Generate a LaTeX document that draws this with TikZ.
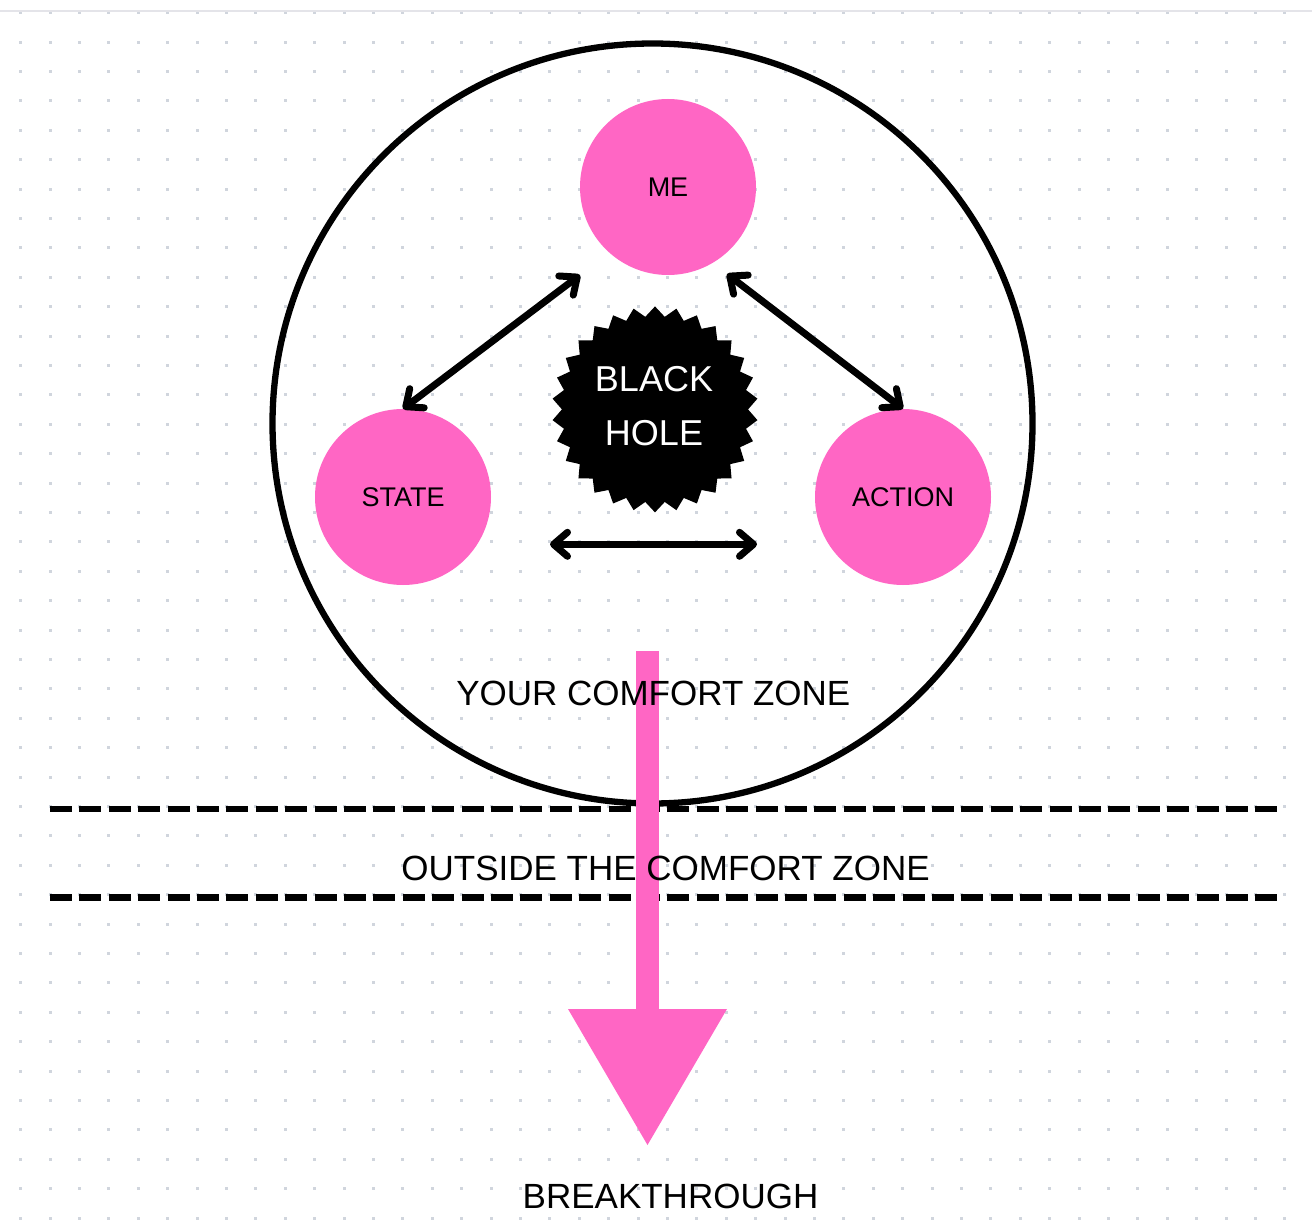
\documentclass[tikz,border=0pt]{standalone}
\usepackage{fontspec}
\setmainfont{Liberation Sans}
\usetikzlibrary{arrows.meta,shapes.geometric}
\definecolor{hotpink}{HTML}{FF66C4}
\definecolor{dotgray}{HTML}{D0D5DD}
\definecolor{rulegray}{HTML}{E4E4E9}
\begin{document}
\begin{tikzpicture}[x=1pt,y=-1pt,
  pinkball/.style={circle,fill=hotpink,minimum size=176pt,inner sep=0pt,font=\fontsize{27}{30}\selectfont},
  twoway/.style={line width=7pt,{Straight Barb[length=14pt,width=24pt,round]}-{Straight Barb[length=14pt,width=24pt,round]}},
  zonelabel/.style={font=\fontsize{35}{40}\selectfont,anchor=base,inner sep=0pt},
  boundary/.style={line width=6.6pt,dash pattern=on 22pt off 7.4pt}]
\useasboundingbox (0,0) rectangle (1312,1228);
\fill[white] (0,0) rectangle (1312,1228);
% dot grid
\foreach \i in {0,...,43}{
  \foreach \j in {0,...,41}{
    \fill[dotgray] ({19.2+29.4*\i},{11.2+29.4*\j}) rectangle ++(3,3);
  }
}
\draw[rulegray,line width=2pt] (0,11) -- (1312,11);
% comfort zone circle
\node[circle,draw=black,line width=6.3pt,minimum size=760pt,inner sep=0pt] (zone) at (652.5,423.5) {};
% pink circles
\node[pinkball] (me) at (668,187) {ME};
\node[pinkball] (state) at (403,497) {STATE};
\node[pinkball] (action) at (903,497) {ACTION};
% black hole
\node[star,star points=30,star point ratio=1.107,minimum size=206pt,inner sep=0pt,fill=black] (hole) at (655,409.4) {};
\node[text=white,align=center,inner sep=0pt,font=\fontsize{36}{53.3}\selectfont] (holetext) at (654,406) {BLACK\\HOLE};
% double arrows
\coordinate (meL) at (580,275);
\coordinate (meR) at (727,274);
\coordinate (hL) at (550,544.3);
\coordinate (hR) at (757,544.3);
\draw[twoway] (meL) -- (state.north);
\draw[twoway] (meR) -- (action.north);
\draw[twoway] (hL) -- (hR);
% dashed boundaries
\coordinate (d1a) at (50,809);
\coordinate (d1b) at (1278,809);
\coordinate (d2a) at (50,897.5);
\coordinate (d2b) at (1278,897.5);
\draw[boundary] (d1a) -- (d1b);
\draw[boundary] (d2a) -- (d2b);
% pink arrow
\fill[hotpink] (636,650.7) rectangle (659,1012);
\fill[hotpink] (568,1009) -- (727,1009) -- (647.5,1145) -- cycle;
% labels
\node[zonelabel] (inside) at (653.3,705.4) {YOUR COMFORT ZONE};
\node[zonelabel] (outside) at (665.5,880) {OUTSIDE THE COMFORT ZONE};
\node[zonelabel] (breakthrough) at (670.5,1208) {BREAKTHROUGH};
\end{tikzpicture}
\end{document}
